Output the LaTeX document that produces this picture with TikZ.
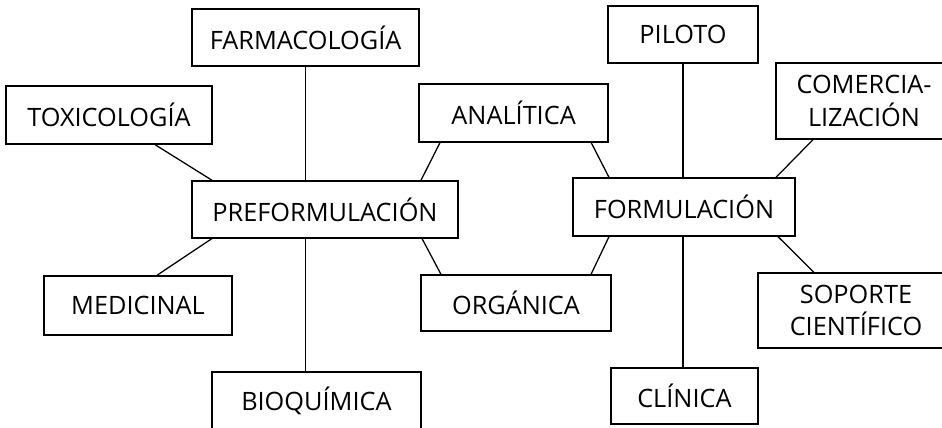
\documentclass[tikz,border=0pt]{standalone}
\usepackage{fontspec}
\setmainfont{Open Sans}
\usepackage{tikz}
\usetikzlibrary{positioning}
\usetikzlibrary{calc}
\tikzset{every picture/.style={line width=0.9pt},area/.style={draw,inner sep=0pt,align=center,font=\fontsize{18}{23}\selectfont}}

\begin{document}
\begin{tikzpicture}
\useasboundingbox (0,0) rectangle (23.55,10.675);

\node (pre) [area, minimum width=6.65cm, minimum height=1.425cm] at (8.125,5.44) {PREFORMULACIÓN};
\node (form) [area, minimum width=5.55cm, minimum height=1.45cm] at (17.1,5.5) {FORMULACIÓN};

\node (farm) [area, minimum width=5.675cm, minimum height=1.425cm] at (7.64,9.74) {FARMACOLOGÍA};
\node (tox) [area, minimum width=5.15cm, minimum height=1.45cm] at (2.725,7.8) {TOXICOLOGÍA};
\node (med) [area, minimum width=4.7cm, minimum height=1.475cm] at (3.45,3.04) {MEDICINAL};
\node (bio) [area, minimum width=5.225cm, minimum height=1.425cm] at (7.91,0.66) {BIOQUÍMICA};

\node (ana) [area, minimum width=4.725cm, minimum height=1.45cm] at (12.84,7.85) {ANALÍTICA};
\node (org) [area, minimum width=4.75cm, minimum height=1.4cm] at (12.9,3.1) {ORGÁNICA};

\node (pil) [area, minimum width=3.75cm, minimum height=1.425cm] at (17.075,9.81) {PILOTO};
\node (com) [area, minimum width=4.4cm, minimum height=1.9cm] at (21.6,8.15) {COMERCIA-\\LIZACIÓN};
\node (sop) [area, minimum width=4.9cm, minimum height=1.875cm] at (21.4,2.91) {SOPORTE\\CIENTÍFICO};
\node (cli) [area, minimum width=3.675cm, minimum height=1.4cm] at (17.11,0.775) {CLÍNICA};

%\draw[-] (pre) -- (form);
\draw[-] ([xshift=1.15cm]tox.south) -- ([xshift=-2.825cm]pre.north);
\draw[-] (farm.south) -- (farm.south |- pre.north);
\draw[-] ([xshift=-1.84cm]ana.south) -- ([xshift=2.4cm]pre.north);
\draw[-] ([xshift=0.475cm]med.north) -- ([xshift=-2.825cm]pre.south);
\draw[-] (farm.south |- pre.south) -- (farm.south |- bio.north);
\draw[-] ([xshift=-1.875cm]org.north) -- ([xshift=2.425cm]pre.south);

\draw[-] ([xshift=1.94cm]ana.south) -- ([xshift=-1.875cm]form.north);
\draw[-] (pil.south) -- (pil.south |- form.north);
\draw[-] ([xshift=-1.275cm]com.south) -- ([xshift=2.3cm]form.north);
\draw[-] ([xshift=1.875cm]org.north) -- ([xshift=-1.875cm]form.south);
\draw[-] (pil.south |- form.south) -- (pil.south |- cli.north);
\draw[-] ([xshift=-1.05cm]sop.north) -- ([xshift=2.35cm]form.south);
\end{tikzpicture}
\end{document}
